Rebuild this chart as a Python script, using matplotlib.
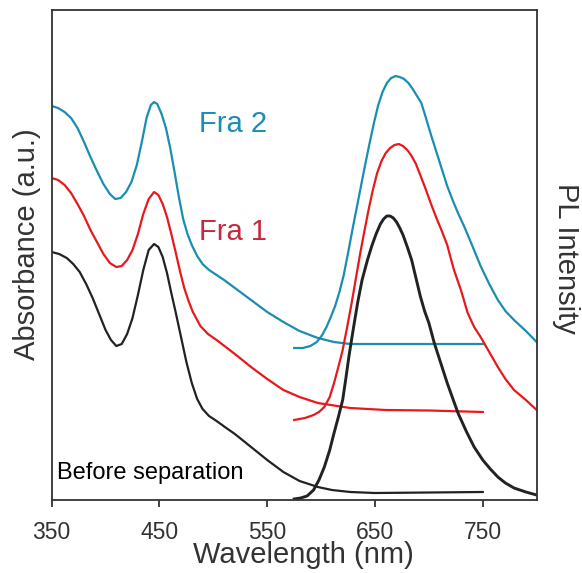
import numpy as np
import matplotlib
matplotlib.use('Agg')
import matplotlib.pyplot as plt

plt.rcParams['font.family'] = ['Liberation Sans', 'DejaVu Sans']

# absorbance spectra (a.u., offset for clarity)
abs_before_nm = [350, 357, 364, 370, 376, 382, 388, 394, 400, 405, 410, 415, 420, 425, 430, 435,
                 440, 445, 449, 453, 457, 461, 465, 470, 475, 480, 485, 490, 496, 503, 512, 520,
                 535, 550, 565, 580, 597, 610, 627, 650, 700, 750]
abs_before = [248, 246, 242, 236, 228, 216, 202, 186, 170, 160, 154, 156, 166, 182, 205, 230,
              250, 256, 253, 243, 227, 207, 188, 163, 138, 117, 101, 91, 84, 79, 72, 66,
              53, 40, 28, 19, 13, 10, 8, 7, 7.5, 8]

abs_fra1_nm = [350, 356, 362, 368, 374, 380, 386, 392, 398, 404, 410, 415, 420, 425, 430, 435,
               440, 445, 449, 453, 457, 461, 465, 469, 473, 477, 481, 488, 495, 503, 520, 535,
               550, 565, 580, 597, 627, 660, 700, 750]
abs_fra1 = [322, 320, 315, 307, 296, 284, 270, 258, 246, 237, 233, 234, 240, 250, 266, 286,
            301, 308, 305, 296, 283, 266, 248, 229, 212, 199, 188, 174, 166, 160, 146, 133,
            121, 110, 103, 97, 92, 90, 89.5, 88]

abs_fra2_nm = [350, 356, 362, 368, 374, 380, 386, 392, 398, 404, 409, 414, 419, 424, 429, 434,
               438, 442, 445, 448, 452, 456, 460, 464, 468, 472, 476, 480, 485, 490, 496, 503,
               510, 520, 535, 550, 565, 580, 597, 612, 627, 650, 700, 750]
abs_fra2 = [394, 392, 388, 382, 372, 358, 343, 329, 316, 306, 301, 302, 308, 318, 335, 360,
            382, 395, 398, 396, 386, 372, 352, 328, 303, 281, 266, 255, 244, 236, 230, 225,
            220, 212, 200, 188, 178, 169, 162, 158, 156, 156, 156, 156]

# photoluminescence spectra
pl_before_nm = [575, 581, 587, 593, 598, 603, 608, 612, 616, 620, 623, 626, 630, 634, 638, 643,
                647, 651, 655, 658, 661, 664, 667, 670, 673, 676, 680, 684, 688, 692, 696, 700,
                705, 711, 717, 722, 727, 735, 742, 750, 757, 764, 771, 779, 790, 800]
pl_before = [1, 2, 4, 10, 20, 33, 50, 67, 83, 100, 122, 145, 172, 198, 220, 240,
             254, 266, 276, 281, 284, 284, 282, 278, 272, 265, 253, 240, 222, 204, 189, 177,
             157, 137, 117, 102, 87, 68, 53, 40, 31, 23, 17, 12, 8, 5]

pl_fra1_nm = [575, 585, 593, 598, 603, 608, 612, 616, 620, 624, 628, 632, 636, 640, 644, 648,
              652, 656, 660, 664, 668, 672, 676, 680, 684, 688, 692, 697, 702, 707, 712, 717,
              723, 730, 736, 742, 748, 756, 764, 771, 779, 790, 800]
pl_fra1 = [80, 82, 85, 88, 93, 103, 117, 133, 150, 172, 195, 220, 245, 268, 290, 310,
           327, 339, 347, 352, 355, 356, 354, 350, 344, 336, 325, 311, 296, 282, 269, 255,
           231, 209, 187, 173, 163, 148, 133, 121, 110, 100, 90]

pl_fra2_nm = [575, 583, 590, 596, 601, 605, 609, 613, 617, 621, 625, 629, 633, 637, 641, 645,
              649, 653, 657, 661, 665, 669, 673, 677, 681, 685, 689, 693, 697, 702, 707, 712,
              717, 722, 727, 733, 740, 748, 756, 764, 771, 779, 790, 800]
pl_fra2 = [152, 152, 154, 158, 165, 173, 183, 194, 208, 225, 247, 270, 292, 314, 336, 357,
           377, 395, 408, 417, 422, 424, 423, 421, 417, 411, 404, 397, 383, 365, 348, 331,
           314, 300, 287, 273, 255, 234, 216, 200, 189, 180, 169, 158]

c_black = '#222222'
c_red = '#e8191c'
c_blue = '#1a8db3'
c_axis = '#333333'

fig = plt.figure(figsize=(5.82, 5.73), dpi=100)
ax = fig.add_axes([0.0888, 0.1274, 0.8333, 0.8551])

lw = 1.6
ax.plot(abs_before_nm, abs_before, color=c_black, lw=lw)
ax.plot(abs_fra1_nm, abs_fra1, color=c_red, lw=lw)
ax.plot(abs_fra2_nm, abs_fra2, color=c_blue, lw=lw)
ax.plot(pl_before_nm, pl_before, color=c_black, lw=2.1)
ax.plot(pl_fra1_nm, pl_fra1, color=c_red, lw=lw)
ax.plot(pl_fra2_nm, pl_fra2, color=c_blue, lw=lw)

ax.set_xlim(350, 800)
ax.set_ylim(0, 490)
ax.set_xticks([350, 450, 550, 650, 750])
ax.set_yticks([])
ax.tick_params(axis='x', direction='out', length=5, width=1.3, color=c_axis,
               labelsize=16.5, labelcolor=c_axis, pad=10)
for sp in ax.spines.values():
    sp.set_color(c_axis)
    sp.set_linewidth(1.3)

ax.set_xlabel('Wavelength (nm)', fontsize=21, color=c_axis)
ax.xaxis.set_label_coords(0.518, -0.0835)
ax.set_ylabel('Absorbance (a.u.)', fontsize=21, color=c_axis)
ax.yaxis.set_label_coords(-0.0212, 0.522)
ax.text(1.0604, 0.494, 'PL Intensity', transform=ax.transAxes, rotation=-90,
        ha='center', va='center', fontsize=21, color=c_axis)

ax.text(0.3037, 0.7516, 'Fra 2', transform=ax.transAxes, fontsize=21,
        color=c_blue, va='baseline')
ax.text(0.3043, 0.5306, 'Fra 1', transform=ax.transAxes, fontsize=21,
        color='#c8283f', va='baseline')
ax.text(0.0115, 0.0422, 'Before separation', transform=ax.transAxes, fontsize=17,
        color='black', va='baseline')

fig.savefig('out.png', dpi=100)
